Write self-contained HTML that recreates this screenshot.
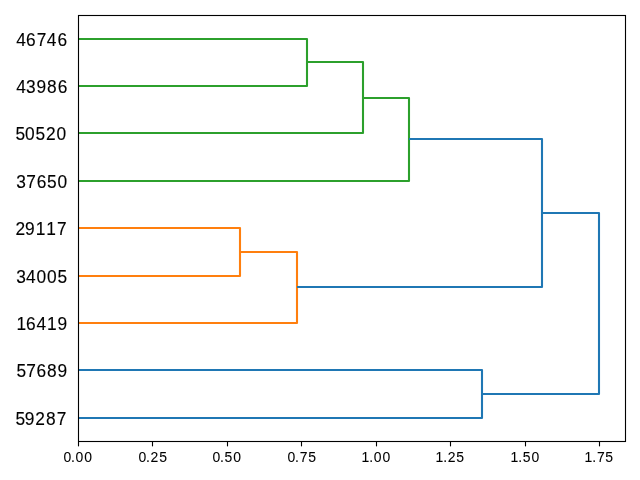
<!DOCTYPE html>
<html><head><meta charset="utf-8"><style>
html,body{margin:0;padding:0;background:#fff;width:640px;height:480px;overflow:hidden}
svg{display:block}
text{font-family:"Liberation Sans",sans-serif;fill:#000}
.t{will-change:transform}
.yl{stroke:#000;stroke-width:0.125px}
.xl{stroke:#000;stroke-width:0.075px}
</style></head><body>
<svg width="640" height="480" viewBox="0 0 640 480">
<rect width="640" height="480" fill="#fff"/>
<defs><clipPath id="ax"><rect x="77.6" y="15" width="547.4" height="426.3"/></clipPath></defs>
<g clip-path="url(#ax)" fill="none" stroke-width="2.1" stroke-linejoin="round" stroke-linecap="butt">
<polyline stroke="#2ca02c" points="78,39 307,39 307,86 78,86"/>
<polyline stroke="#2ca02c" points="307,62 363,62 363,133 78,133"/>
<polyline stroke="#2ca02c" points="363,98 409,98 409,181 78,181"/>
<polyline stroke="#ff7f0e" points="78,228 240,228 240,276 78,276"/>
<polyline stroke="#ff7f0e" points="240,252 297,252 297,323 78,323"/>
<polyline stroke="#1f77b4" points="409,139 542,139 542,287 297,287"/>
<polyline stroke="#1f77b4" points="78,370 482,370 482,418 78,418"/>
<polyline stroke="#1f77b4" points="542,213 599,213 599,394 482,394"/>
</g>
<rect x="78.5" y="15.5" width="547" height="426" fill="none" stroke="#000" stroke-width="1.111"/>
<g stroke="#000" stroke-width="1.111"><line x1="78.5" y1="441.5" x2="78.5" y2="446.36"/><line x1="152.5" y1="441.5" x2="152.5" y2="446.36"/><line x1="227.5" y1="441.5" x2="227.5" y2="446.36"/><line x1="301.5" y1="441.5" x2="301.5" y2="446.36"/><line x1="376.5" y1="441.5" x2="376.5" y2="446.36"/><line x1="450.5" y1="441.5" x2="450.5" y2="446.36"/><line x1="525.5" y1="441.5" x2="525.5" y2="446.36"/><line x1="599.5" y1="441.5" x2="599.5" y2="446.36"/></g>
<g class="t xl" font-size="13.970"><text x="63.42 70.92 75.42 84.13" y="462.00" transform="matrix(1 0 0 1.0794 0 -36.683)">0.00</text><text x="138.44 145.88 150.45 159.16" y="462.00" transform="matrix(1 0 0 1.0794 0 -36.683)">0.25</text><text x="212.42 219.93 224.43 233.20" y="462.00" transform="matrix(1 0 0 1.0794 0 -36.683)">0.50</text><text x="287.44 294.89 299.67 308.17" y="462.00" transform="matrix(1 0 0 1.0794 0 -36.683)">0.75</text><text x="361.43 369.19 373.68 382.40" y="462.00" transform="matrix(1 0 0 1.0794 0 -36.683)">1.00</text><text x="435.39 443.15 447.65 456.18" y="462.00" transform="matrix(1 0 0 1.0794 0 -36.683)">1.25</text><text x="510.43 518.19 522.70 531.40" y="462.00" transform="matrix(1 0 0 1.0794 0 -36.683)">1.50</text><text x="584.39 592.15 596.93 605.18" y="462.00" transform="matrix(1 0 0 1.0794 0 -36.683)">1.75</text></g>
<g class="t yl" font-size="17.360"><text x="15.44 24.68 35.18 45.94 56.70" y="425.00" transform="matrix(1 0 0 1.0953 0 -40.502)">59287</text><text x="16.43 26.19 36.39 46.93 57.42" y="377.00" transform="matrix(1 0 0 1.0953 0 -35.928)">57689</text><text x="16.41 25.92 36.39 46.91 57.42" y="330.00" transform="matrix(1 0 0 1.0953 0 -31.449)">16419</text><text x="16.18 25.88 36.43 46.91 57.38" y="283.00" transform="matrix(1 0 0 1.0953 0 -26.970)">34005</text><text x="15.40 24.93 35.68 46.16 56.95" y="235.00" transform="matrix(1 0 0 1.0953 0 -22.395)">29117</text><text x="16.14 26.19 36.64 46.93 57.41" y="188.00" transform="matrix(1 0 0 1.0953 0 -17.916)">37650</text><text x="15.43 24.91 35.39 45.90 56.41" y="140.00" transform="matrix(1 0 0 1.0953 0 -13.342)">50520</text><text x="16.19 25.88 36.41 46.94 57.67" y="93.00" transform="matrix(1 0 0 1.0953 0 -8.863)">43986</text><text x="16.19 25.92 36.68 46.69 57.42" y="46.00" transform="matrix(1 0 0 1.0953 0 -4.384)">46746</text></g>
</svg>
</body></html>
